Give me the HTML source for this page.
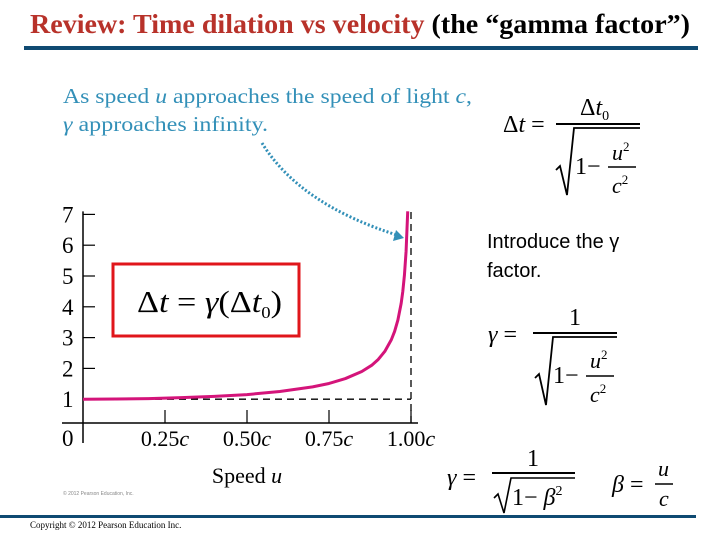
<!DOCTYPE html>
<html><head><meta charset="utf-8"><style>
body{margin:0;background:#fff}
svg{display:block}
.tn{font-family:"Liberation Serif",serif}
.it{font-style:italic}
</style></head><body>
<svg width="720" height="540" viewBox="0 0 720 540" xmlns="http://www.w3.org/2000/svg">
<text x="30" y="33" class="tn" font-size="27" font-weight="bold" fill="#b8322a" textLength="660" lengthAdjust="spacingAndGlyphs">Review: Time dilation vs velocity <tspan fill="#000">(the “gamma factor”)</tspan></text>
<rect x="24" y="46" width="674" height="4" fill="#0f4a72"/>
<text x="63" y="103" class="tn" font-size="21" fill="#3390b8" textLength="409" lengthAdjust="spacingAndGlyphs">As speed <tspan class="it">u</tspan> approaches the speed of light <tspan class="it">c</tspan>,</text>
<text x="63" y="131" class="tn" font-size="21" fill="#3390b8" textLength="205" lengthAdjust="spacingAndGlyphs"><tspan class="it">γ</tspan> approaches infinity.</text>
<path d="M262,143 Q300,205 400,236" fill="none" stroke="#3390b8" stroke-width="3" stroke-dasharray="2,2"/>
<polygon points="404,238 393,241 396,230" fill="#3390b8"/>

<g class="tn">
<text x="503" y="132" font-size="24">Δ<tspan class="it">t</tspan> =</text>
<text x="580" y="115" font-size="24">Δ<tspan class="it">t</tspan><tspan font-size="14" dy="5">0</tspan></text>
<line x1="556" y1="124" x2="640" y2="124" stroke="#000" stroke-width="2"/>
<path d="M556,170 L560,166 L567,195 L574,128 L640,128" fill="none" stroke="#000" stroke-width="1.8"/>
<text x="575" y="174" font-size="24">1−</text>
<text x="612" y="160" font-size="22" class="it">u<tspan font-size="13" dy="-9" font-style="normal">2</tspan></text>
<line x1="608" y1="167" x2="636" y2="167" stroke="#000" stroke-width="1.5"/>
<text x="612" y="193" font-size="22" class="it">c<tspan font-size="13" dy="-9" font-style="normal">2</tspan></text>
</g>

<text x="487" y="248" font-family="Liberation Sans,sans-serif" font-size="20">Introduce the γ</text>
<text x="487" y="277" font-family="Liberation Sans,sans-serif" font-size="20">factor.</text>

<g class="tn">
<text x="488" y="342" font-size="24" class="it">γ <tspan font-style="normal">=</tspan></text>
<text x="569" y="325" font-size="24">1</text>
<line x1="533" y1="333" x2="617" y2="333" stroke="#000" stroke-width="2"/>
<path d="M535,378 L539,374 L546,405 L553,337 L617,337" fill="none" stroke="#000" stroke-width="1.8"/>
<text x="553" y="383" font-size="24">1−</text>
<text x="590" y="368" font-size="22" class="it">u<tspan font-size="13" dy="-9" font-style="normal">2</tspan></text>
<line x1="586" y1="376" x2="614" y2="376" stroke="#000" stroke-width="1.5"/>
<text x="590" y="402" font-size="22" class="it">c<tspan font-size="13" dy="-9" font-style="normal">2</tspan></text>
</g>

<g class="tn">
<text x="447" y="485" font-size="24" class="it">γ <tspan font-style="normal">=</tspan></text>
<text x="527" y="466" font-size="24">1</text>
<line x1="492" y1="473" x2="575" y2="473" stroke="#000" stroke-width="2"/>
<path d="M494,498 L498,494 L504,513 L511,478 L575,478" fill="none" stroke="#000" stroke-width="1.6"/>
<text x="512" y="505" font-size="24">1− <tspan class="it">β</tspan><tspan font-size="14" dy="-10">2</tspan></text>
<text x="612" y="492" font-size="24"><tspan class="it">β</tspan> =</text>
<text x="658" y="476" font-size="22" class="it">u</text>
<line x1="655" y1="484" x2="673" y2="484" stroke="#000" stroke-width="1.5"/>
<text x="659" y="506" font-size="22" class="it">c</text>
</g>

<g id="chart"></g>
<rect x="0" y="515" width="696" height="3" fill="#0f4a72"/>
<text x="30" y="528" class="tn" font-size="9">Copyright © 2012 Pearson Education Inc.</text>
<text x="63" y="495" font-family="Liberation Sans,sans-serif" font-size="5" fill="#888">© 2012 Pearson Education, Inc.</text>
</svg>
<script>
const speeds=[0,0.1,0.2,0.3,0.4,0.5,0.6,0.7,0.75,0.8,0.85,0.88,0.9,0.92,0.94,0.95,0.96,0.97,0.975,0.98,0.985,0.99];
const gammas=[1,1.005,1.02,1.05,1.09,1.15,1.25,1.4,1.51,1.67,1.9,2.1,2.29,2.55,2.93,3.2,3.57,4.11,4.5,5.03,5.8,7.1];
const xTicks=[0.25,0.5,0.75,1.0];
const xTickLabels=["0.25","0.50","0.75","1.00"];
const yTicks=[1,2,3,4,5,6,7];
const NS="http://www.w3.org/2000/svg";
const g=document.getElementById('chart');
const X=v=>83+v*328, Y=v=>430-v*30.8;
function mk(t,a){const e=document.createElementNS(NS,t);for(const k in a)e.setAttribute(k,a[k]);g.appendChild(e);return e;}
let e;
e=mk('line',{x1:X(0),y1:Y(7.1),x2:X(0),y2:Y(0)+13,stroke:'#000','stroke-width':1.5});


e=mk('line',{x1:62,y1:423,x2:418,y2:423,stroke:'#000','stroke-width':1.5});


yTicks.forEach(v=>{
 e=mk('line',{x1:X(0),y1:Y(v),x2:X(0)+12,y2:Y(v),stroke:'#000','stroke-width':1.2});
 
 
 e=mk('text',{x:62,y:Y(v)+8,'font-family':'Liberation Serif,serif','font-size':23});
 e.textContent=v;
 
 
});
e=mk('text',{x:62,y:446,'font-family':'Liberation Serif,serif','font-size':23});e.textContent='0';


xTicks.forEach((v,i)=>{
 e=mk('line',{x1:X(v),y1:423,x2:X(v),y2:410,stroke:'#000','stroke-width':1.2});
 
 
 e=mk('text',{x:X(v),y:446,'text-anchor':'middle','font-family':'Liberation Serif,serif','font-size':22});
 e.innerHTML=xTickLabels[i]+'<tspan font-style="italic">c</tspan>';
 
 
});
e=mk('text',{x:X(0.5),y:483,'text-anchor':'middle','font-family':'Liberation Serif,serif','font-size':22});
e.innerHTML='Speed <tspan font-style="italic">u</tspan>';


e=mk('path',{d:`M${X(0)},${Y(1)} H${X(1)} M${X(1)},${Y(0)-7} V${Y(7.1)}`,fill:'none',stroke:'#000','stroke-width':1.3,'stroke-dasharray':'7,5'});


e=mk('polyline',{points:speeds.map((s,i)=>X(s)+','+Y(gammas[i])).join(' '),fill:'none',stroke:'#d4147a','stroke-width':3,'stroke-linejoin':'round'});


e=mk('rect',{x:113,y:264,width:186,height:72,fill:'none',stroke:'#e0161b','stroke-width':3});


e=mk('text',{x:137,y:312,'font-family':'Liberation Serif,serif','font-size':31,textLength:145,lengthAdjust:'spacingAndGlyphs'});
e.innerHTML='Δ<tspan font-style="italic">t</tspan> = <tspan font-style="italic">γ</tspan>(Δ<tspan font-style="italic">t</tspan><tspan font-size="17" dy="6">0</tspan><tspan dy="-6">)</tspan>';


</script>
</body></html>
